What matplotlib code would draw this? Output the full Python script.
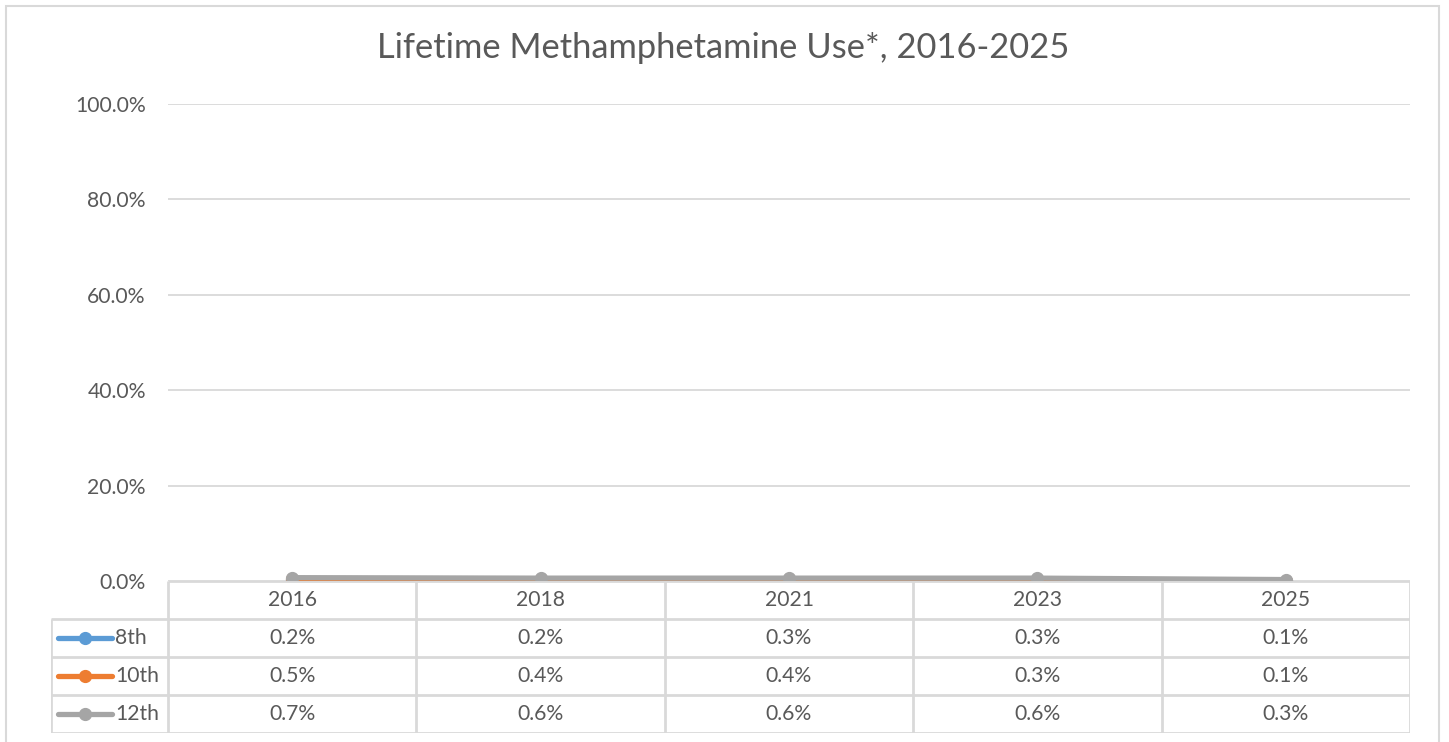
import numpy as np
import matplotlib.pyplot as plt
from matplotlib.patches import Rectangle

# Data
years = ["2016", "2018", "2021", "2023", "2025"]
grades = ["8th", "10th", "12th"]
grade8 = [0.2, 0.2, 0.3, 0.3, 0.1]
grade10 = [0.5, 0.4, 0.4, 0.3, 0.1]
grade12 = [0.7, 0.6, 0.6, 0.6, 0.3]
y_ticks = [0, 20, 40, 60, 80, 100]

colors = ["#5B9BD5", "#ED7D31", "#A5A5A5"]
text_col = "#595959"
grid_col = "#D9D9D9"

plt.rcParams['font.family'] = ['Lato', 'DejaVu Sans']

W, H = 1449, 742
fig = plt.figure(figsize=(W / 100, H / 100), dpi=100)

def px(x0, y0, x1, y1):
    # pixel box -> figure fraction [left, bottom, width, height]
    return [x0 / W, 1 - y1 / H, (x1 - x0) / W, (y1 - y0) / H]

# outer chart border
fig.patches.append(Rectangle((6 / W, -0.01), (1439 - 6) / W, 1 - 6 / H + 0.01,
                             transform=fig.transFigure, fill=False,
                             edgecolor=grid_col, lw=1.5))

fig.text(723 / W, 1 - 48 / H, "Lifetime Methamphetamine Use*, 2016-2025",
         ha="center", va="center", fontsize=24.8, color=text_col)

# plot area
left, right, top, bottom = 168, 1410, 104, 581
ax = fig.add_axes(px(left, top, right, bottom))
x = np.arange(len(years))
series = [grade8, grade10, grade12]
for vals, c in zip(series, colors):
    ax.plot(x, vals, color=c, lw=3.8, marker="o", markersize=8.5,
            solid_capstyle="round", zorder=3)
ax.set_xlim(-0.5, len(years) - 0.5)
ax.set_ylim(0, 100)
ax.set_yticks(y_ticks)
ax.set_yticklabels([f"{v:.1f}%" for v in y_ticks], color=text_col, fontsize=15.2)
ax.tick_params(axis="y", length=0, pad=16)
ax.set_xticks([])
ax.grid(axis="y", color=grid_col, lw=1.3)
ax.set_axisbelow(True)
for s in ax.spines.values():
    s.set_visible(False)

# data table below the plot
col_w = (right - left) / len(years)
tleft = 51
tab = fig.add_axes(px(tleft, bottom, right, 733))
xl = -0.5 - (left - tleft) / col_w
tab.set_xlim(xl, len(years) - 0.5)
tab.set_ylim(4, 0)
tab.axis("off")
lc = dict(color=grid_col, lw=2, solid_capstyle="butt")
# horizontal lines
tab.plot([-0.5, len(years) - 0.5], [0, 0], **lc)
for r in range(1, 5):
    tab.plot([xl, len(years) - 0.5], [r, r], **lc)
# vertical lines
tab.plot([xl, xl], [1, 4], **lc)
for c in range(len(years) + 1):
    tab.plot([c - 0.5, c - 0.5], [0, 4], **lc)

for i, yr in enumerate(years):
    tab.text(i, 0.5, yr, ha="center", va="center", fontsize=15.2, color=text_col)
for r, (g, vals, c) in enumerate(zip(grades, series, colors)):
    yy = r + 1.5
    tab.plot([xl + 0.03, xl + 0.245], [yy, yy], color=c, lw=3.8,
             solid_capstyle="round")
    tab.plot([xl + 0.137], [yy], marker="o", color=c, markersize=8.5)
    tab.text(xl + 0.258, yy, g, ha="left", va="center", fontsize=15.2,
             color=text_col)
    for i, v in enumerate(vals):
        tab.text(i, yy, f"{v:.1f}%", ha="center", va="center", fontsize=15.2,
                 color=text_col)

fig.savefig("out.png", dpi=100)
